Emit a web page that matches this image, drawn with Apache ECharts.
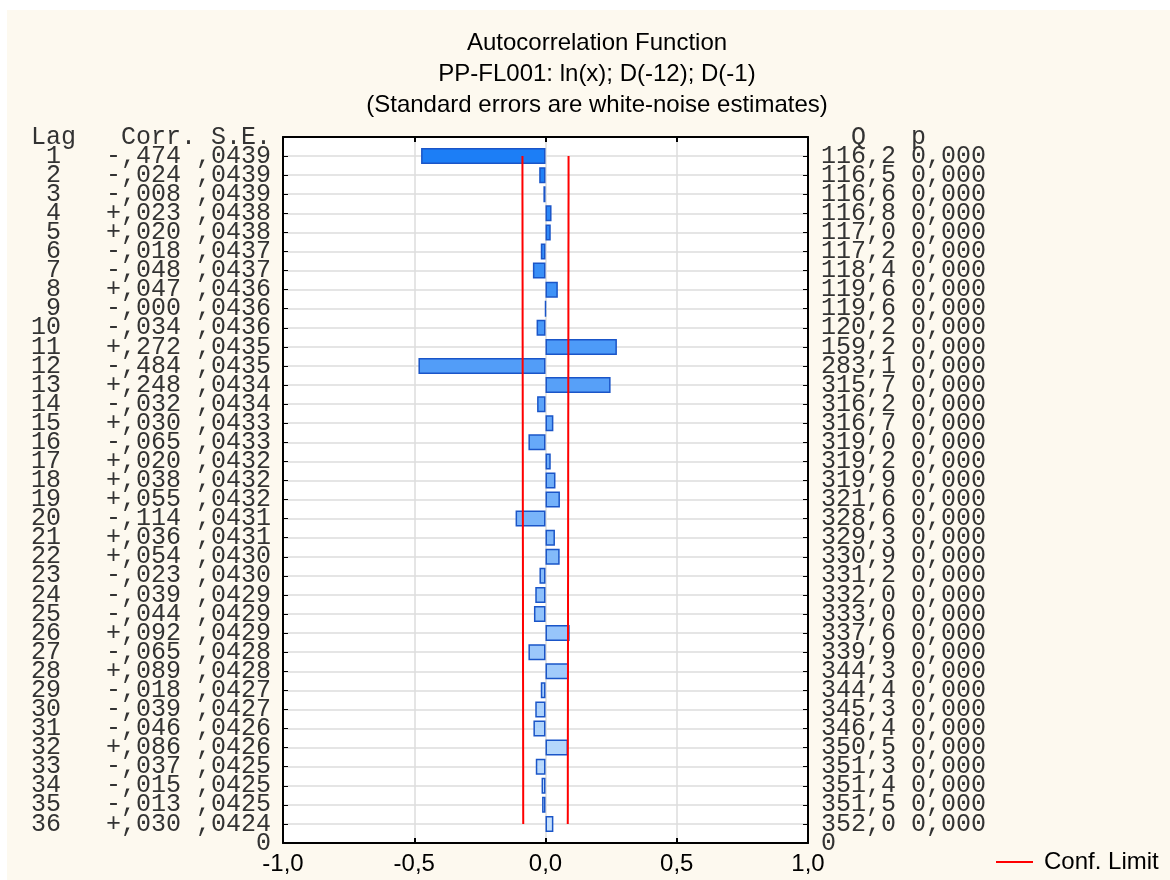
<!DOCTYPE html>
<html>
<head>
<meta charset="utf-8">
<script src="https://cdn.jsdelivr.net/npm/echarts@6/dist/echarts.min.js"></script>
<style>
  html, body { margin: 0; padding: 0; background: #fff; }
  #chart { position: absolute; left: 7px; top: 10px; width: 1163px; height: 870px; }
</style>
</head>
<body>
<div id="chart"></div>
<script>
// ACF table
const lags = [1, 2, 3, 4, 5, 6, 7, 8, 9, 10, 11, 12, 13, 14, 15, 16, 17, 18,
  19, 20, 21, 22, 23, 24, 25, 26, 27, 28, 29, 30, 31, 32, 33, 34, 35, 36]
const corr = [-0.474, -0.024, -0.008, 0.023, 0.020, -0.018, -0.048, 0.047, -0.000,
  -0.034, 0.272, -0.484, 0.248, -0.032, 0.030, -0.065, 0.020, 0.038, 0.055,
  -0.114, 0.036, 0.054, -0.023, -0.039, -0.044, 0.092, -0.065, 0.089, -0.018,
  -0.039, -0.046, 0.086, -0.037, -0.015, -0.013, 0.030]
const stdErr = [0.0439, 0.0439, 0.0439, 0.0438, 0.0438, 0.0437, 0.0437, 0.0436,
  0.0436, 0.0436, 0.0435, 0.0435, 0.0434, 0.0434, 0.0433, 0.0433, 0.0432, 0.0432,
  0.0432, 0.0431, 0.0431, 0.0430, 0.0430, 0.0429, 0.0429, 0.0429, 0.0428, 0.0428,
  0.0427, 0.0427, 0.0426, 0.0426, 0.0425, 0.0425, 0.0425, 0.0424]
const qStat = [116.2, 116.5, 116.6, 116.8, 117.0, 117.2, 118.4, 119.6, 119.6, 120.2,
  159.2, 283.1, 315.7, 316.2, 316.7, 319.0, 319.2, 319.9, 321.6, 328.6, 329.3,
  330.9, 331.2, 332.0, 333.0, 337.6, 339.9, 344.3, 344.4, 345.3, 346.4, 350.5,
  351.3, 351.4, 351.5, 352.0]
const pValue = [0, 0, 0, 0, 0, 0, 0, 0, 0, 0, 0, 0, 0, 0, 0, 0, 0, 0,
  0, 0, 0, 0, 0, 0, 0, 0, 0, 0, 0, 0, 0, 0, 0, 0, 0, 0]
const xTicks = [-1, -0.5, 0, 0.5, 1]

// category slots: 0 = header row, 1..36 = lags, 37 = bottom "0"
const slots = ['0'].concat(lags.map(String), ['37'])

const pad = (s, n) => (' '.repeat(n) + s).slice(-n)
const fmtCorr = v => (v < 0 || Object.is(v, -0) ? '-' : '+') + ',' + Math.abs(v).toFixed(3).slice(2)
const fmtSe = v => ',' + v.toFixed(4).slice(2)
const comma = (v, d) => v.toFixed(d).replace('.', ',')

const leftLabels = ['Lag   Corr. S.E.']
  .concat(lags.map((l, i) => pad(String(l), 2) + '   ' + fmtCorr(corr[i]) + ' ' + fmtSe(stdErr[i])), ['0'])
const rightLabels = ['  Q   p']
  .concat(lags.map((l, i) => comma(qStat[i], 1) + ' ' + comma(pValue[i], 3)), ['0'])

function mix(a, b, t) {
  const pa = a.match(/\w\w/g).map(h => parseInt(h, 16))
  const pb = b.match(/\w\w/g).map(h => parseInt(h, 16))
  return 'rgb(' + pa.map((c, k) => Math.round(c + (pb[k] - c) * t)).join(',') + ')'
}

const monoLabel = {
  interval: 0,
  fontFamily: 'Liberation Mono',
  fontSize: 25,
  color: '#333'
}

const chart = echarts.init(document.getElementById('chart'))
chart.setOption({
  backgroundColor: '#fdf9ef',
  animation: false,
  title: {
    text: 'Autocorrelation Function\nPP-FL001: ln(x); D(-12); D(-1)\n(Standard errors are white-noise estimates)',
    left: 585,
    top: 13,
    textAlign: 'center',
    textStyle: {
      fontFamily: 'Liberation Sans',
      fontSize: 24,
      fontWeight: 'normal',
      lineHeight: 31,
      color: '#000'
    }
  },
  legend: {
    data: ['Conf. Limit'],
    left: 989,
    top: 840,
    padding: 0,
    icon: 'rect',
    itemWidth: 37,
    itemHeight: 2,
    textStyle: { fontFamily: 'Liberation Sans', fontSize: 24, color: '#000', padding: [0, 0, 0, 6] }
  },
  grid: {
    left: 276,
    right: 362,
    top: 127,
    bottom: 37,
    show: true,
    backgroundColor: '#fff',
    borderWidth: 0
  },
  xAxis: [
    {
      type: 'value',
      position: 'bottom',
      min: xTicks[0],
      max: xTicks[xTicks.length - 1],
      interval: 0.5,
      axisLine: { show: true, lineStyle: { color: '#000', width: 2 } },
      axisTick: { show: true, inside: true, length: 5, lineStyle: { color: '#000', width: 2 } },
      axisLabel: {
        margin: 9,
        fontFamily: 'Liberation Sans',
        fontSize: 24,
        color: '#000',
        formatter: v => comma(v, 1)
      },
      splitLine: { show: true, lineStyle: { color: '#dcdcdc', width: 1.5 } }
    },
    {
      type: 'value',
      position: 'top',
      min: xTicks[0],
      max: xTicks[xTicks.length - 1],
      interval: 0.5,
      axisLine: { show: true, lineStyle: { color: '#000', width: 2 } },
      axisTick: { show: true, inside: true, length: 5, lineStyle: { color: '#000', width: 2 } },
      axisLabel: { show: false },
      splitLine: { show: false }
    }
  ],
  yAxis: [
    {
      type: 'category',
      data: slots,
      inverse: true,
      boundaryGap: false,
      position: 'left',
      axisLine: { show: true, onZero: false, lineStyle: { color: '#000', width: 2 } },
      axisTick: { show: true, inside: true, interval: 0, length: 5, lineStyle: { color: '#000' } },
      axisLabel: Object.assign({ margin: 12, formatter: (v, i) => leftLabels[i] }, monoLabel),
      splitLine: { show: true, interval: 0, lineStyle: { color: '#dcdcdc', width: 1.5 } }
    },
    {
      type: 'category',
      data: slots,
      inverse: true,
      boundaryGap: false,
      position: 'right',
      axisLine: { show: true, onZero: false, lineStyle: { color: '#000', width: 2 } },
      axisTick: { show: true, inside: true, interval: 0, length: 5, lineStyle: { color: '#000' } },
      axisLabel: Object.assign({ margin: 13, formatter: (v, i) => rightLabels[i] }, monoLabel),
      splitLine: { show: false }
    }
  ],
  series: [
    {
      type: 'bar',
      name: 'Corr.',
      barWidth: 16,
      data: lags.map((l, i) => [corr[i], String(l)]),
      itemStyle: {
        borderColor: '#1a55c8',
        borderWidth: 1.5,
        color: p => mix('1c7ef6', 'c8e2fd', p.dataIndex / (lags.length - 1))
      }
    },
    {
      type: 'line',
      name: 'Conf. Limit',
      symbol: 'none',
      lineStyle: { color: '#ff0000', width: 2 },
      itemStyle: { color: '#ff0000' },
      data: lags.map((l, i) => [-2 * stdErr[i], String(l)])
    },
    {
      type: 'line',
      name: 'Conf. Limit',
      symbol: 'none',
      lineStyle: { color: '#ff0000', width: 2 },
      itemStyle: { color: '#ff0000' },
      data: lags.map((l, i) => [2 * stdErr[i], String(l)])
    }
  ]
})
</script>
</body>
</html>
